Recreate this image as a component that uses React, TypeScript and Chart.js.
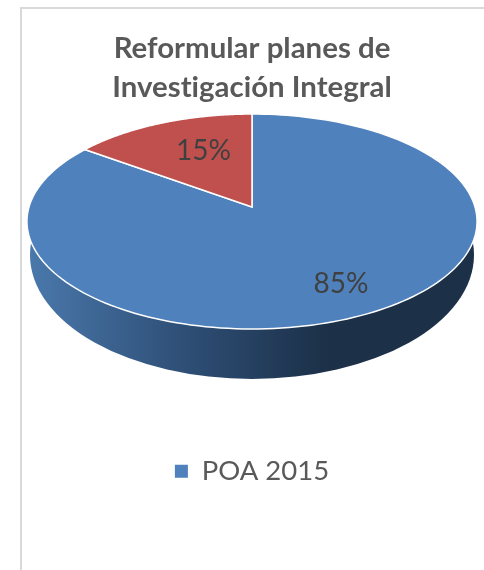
import React, { useEffect, useRef } from "react";
import { Chart, registerables } from "chart.js";

Chart.register(...registerables);

const titleLines = ["Reformular planes de", "Investigación Integral"];
const categories = ["POA 2015", ""];
const values = [85, 15];
const sliceColors = ["#4f81bd", "#c0504d"];
const wallStops = ["#4a78ab", "#2f5078", "#1c3048", "#1c3048"];

const FONT = "Lato, 'Open Sans', sans-serif";

// Tilted-disc projection of the pie's unit circle on to the page
const TILT = { pivotY: 207, kx: 223, ky: 105.5, p: -0.135 };
const WALL = { cy: 255, rx: 222, ry: 124 };
const LABEL_PLACE = [
  { f: 0.75, turn: -2 },
  { f: 0.628, turn: 5 },
];

const tiltPlugin = {
  id: "tiltedPie",
  beforeDraw(chart: any) {
    // keeps "ti" as separate letters, as in the reference
    chart.ctx.letterSpacing = "0.01px";
  },
  beforeDatasetsDraw(chart: any) {
    const { ctx } = chart;
    const arcs = chart.getDatasetMeta(0).data;
    const cx = arcs[0].x;
    const map = (x: number, y: number) => {
      const w = 1 + TILT.p * y;
      return [cx + (TILT.kx * x) / w, TILT.pivotY + (TILT.ky * y) / w];
    };
    ctx.save();
    // side wall
    const grad = ctx.createLinearGradient(cx - WALL.rx, 0, cx + WALL.rx, 0);
    wallStops.forEach((c, i) => grad.addColorStop(i / (wallStops.length - 1), c));
    ctx.fillStyle = grad;
    ctx.beginPath();
    ctx.ellipse(cx, WALL.cy, WALL.rx, WALL.ry, 0, 0, Math.PI * 2);
    ctx.fill();
    // top face
    arcs.forEach((arc: any, i: number) => {
      const steps = 180;
      ctx.beginPath();
      const [px, py] = map(0, 0);
      ctx.moveTo(px, py);
      for (let s = 0; s <= steps; s++) {
        const a = arc.startAngle + ((arc.endAngle - arc.startAngle) * s) / steps;
        const [x, y] = map(Math.cos(a), Math.sin(a));
        ctx.lineTo(x, y);
      }
      ctx.closePath();
      ctx.fillStyle = sliceColors[i];
      ctx.fill();
      ctx.strokeStyle = "#ffffff";
      ctx.lineWidth = 1.5;
      ctx.stroke();
    });
    // data labels
    ctx.font = `400 28px ${FONT}`;
    ctx.fillStyle = "#404040";
    ctx.textAlign = "center";
    ctx.textBaseline = "middle";
    arcs.forEach((arc: any, i: number) => {
      const place = LABEL_PLACE[i];
      const a = (arc.startAngle + arc.endAngle) / 2 + (place.turn * Math.PI) / 180;
      const [x, y] = map(place.f * Math.cos(a), place.f * Math.sin(a));
      ctx.fillText(`${values[i]}%`, x, y + 1);
    });
    ctx.restore();
    return false;
  },
};

export default function App() {
  const ref = useRef<HTMLCanvasElement>(null);
  useEffect(() => {
    const chart = new Chart(ref.current as HTMLCanvasElement, {
      type: "pie",
      data: {
        labels: categories,
        datasets: [{ data: values, backgroundColor: sliceColors, borderWidth: 0 }],
      },
      options: {
        animation: false,
        responsive: false,
        events: [],
        layout: { padding: { left: 20, top: 12, bottom: 75 } },
        plugins: {
          tooltip: { enabled: false },
          title: {
            display: true,
            text: titleLines,
            color: "#595959",
            font: { family: FONT, size: 29.4, weight: "bold", lineHeight: 1.33 },
            padding: { top: 16.5, bottom: 10 },
          },
          legend: {
            position: "bottom",
            labels: {
              filter: (item: any) => item.text !== "",
              color: "#595959",
              font: { family: FONT, size: 27.5 },
              boxWidth: 13,
              boxHeight: 13,
            },
          },
        },
      } as any,
      plugins: [tiltPlugin],
    });
    return () => chart.destroy();
  }, []);
  return (
    <div style={{ position: "absolute", left: 0, top: 0, width: 484, height: 570, overflow: "hidden", background: "#fff" }}>
      <div
        style={{
          position: "absolute",
          left: 20,
          top: 7,
          width: 480,
          height: 580,
          borderLeft: "2px solid #d9d9d9",
          borderTop: "2px solid #d9d9d9",
        }}
      />
      <canvas ref={ref} width={484} height={570} style={{ position: "absolute", left: 0, top: 0 }} />
    </div>
  );
}
